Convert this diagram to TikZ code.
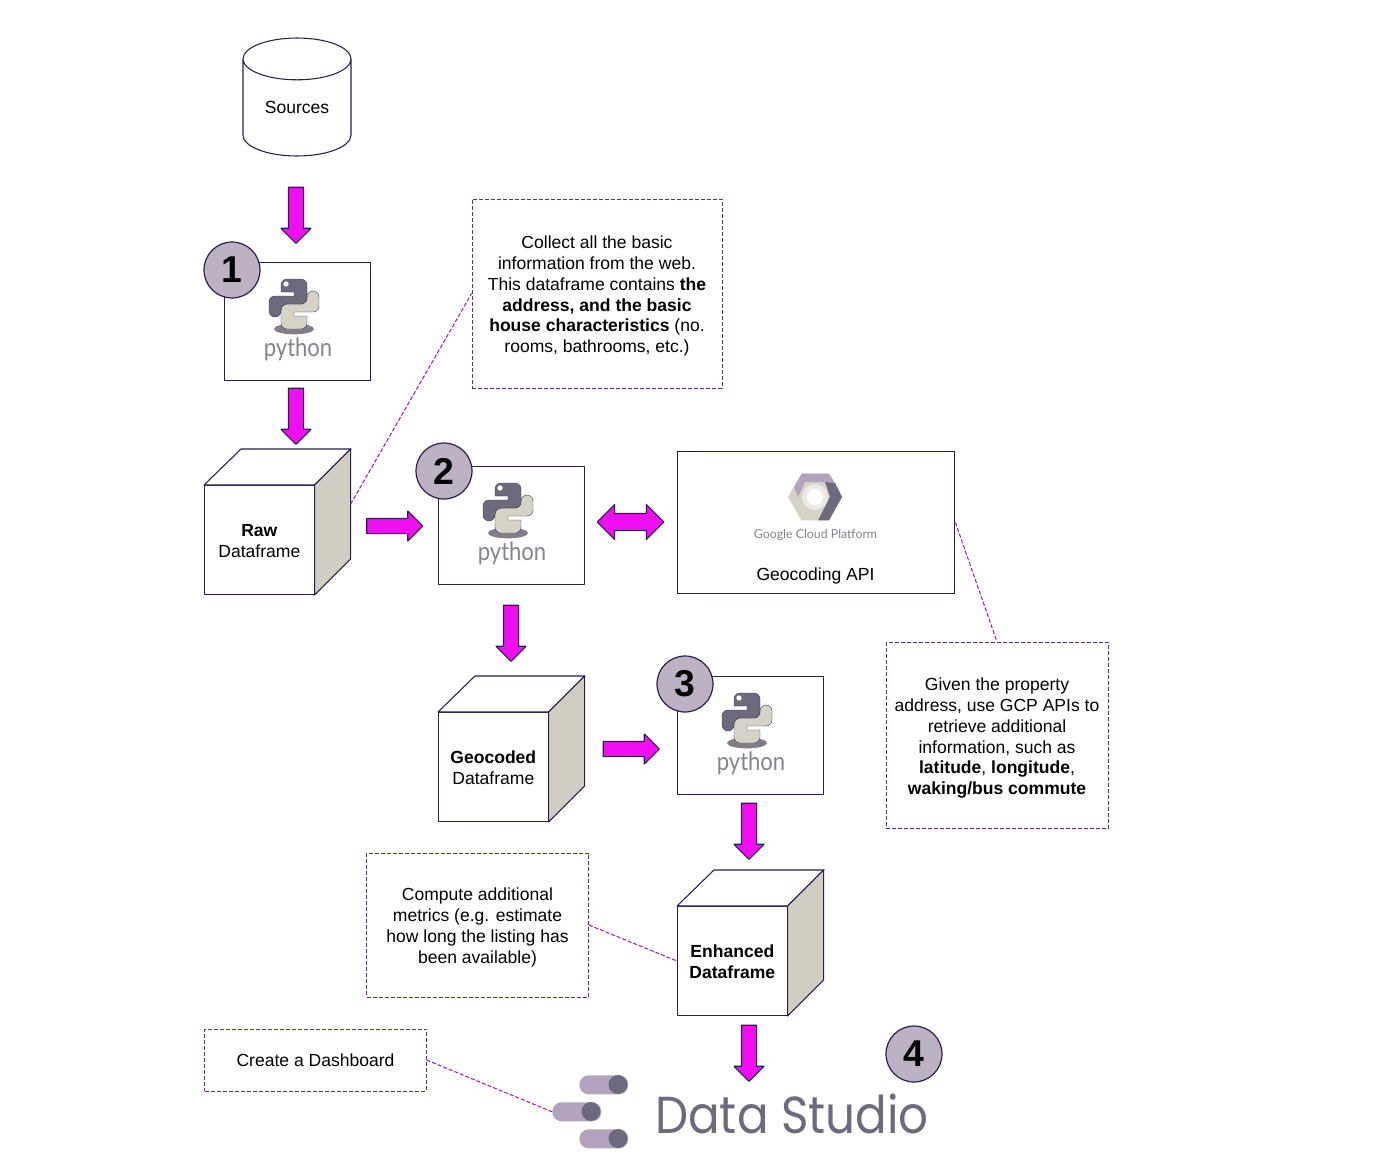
\documentclass[tikz,border=0pt]{standalone}
\usepackage{fontspec}
\setmainfont{Liberation Sans}
\newfontfamily\logofont{Lato}
\newfontfamily\studiofont{Poppins}
\usetikzlibrary{shapes.geometric,shapes.arrows}
\definecolor{edgeline}{HTML}{2A1E50}
\definecolor{arrowfill}{HTML}{F00FF0}
\definecolor{badgefill}{HTML}{BDB2C4}
\definecolor{sidefill}{HTML}{D2CDC3}
\definecolor{snakedark}{HTML}{6C6A7C}
\definecolor{snakelight}{HTML}{D6D2C6}
\definecolor{pillfill}{HTML}{B3A3BE}
\definecolor{logotext}{HTML}{85838F}
\definecolor{notedash}{HTML}{5E2D8C}
\definecolor{leaderdash}{HTML}{A010C0}
\newcommand{\topgap}{\rule{0pt}{13.5pt}}
\tikzset{
	rightarrow/.style={single arrow,draw=edgeline,fill=arrowfill,line width=0.8pt,inner sep=5.25pt,
		minimum height=42pt,minimum width=21.75pt,single arrow head extend=5.6pt},
	downarrow/.style={rightarrow,rotate=-90},
	bothways/.style={double arrow,draw=edgeline,fill=arrowfill,line width=0.8pt,inner sep=6pt,
		minimum height=50pt,minimum width=25.5pt,double arrow head extend=6.75pt},
	plainbox/.style={draw=edgeline,line width=0.8pt,fill=white,inner sep=0pt},
	notebox/.style={draw=notedash,dash pattern=on 3pt off 1.5pt,line width=0.6pt,align=center,inner sep=0pt},
	leader/.style={draw=leaderdash,dash pattern=on 3pt off 1.5pt,line width=0.75pt},
	badge/.style={circle,draw=edgeline,fill=badgefill,line width=0.9pt,inner sep=0pt,minimum size=42pt,
		font=\fontsize{28}{28}\selectfont\bfseries},
	pylogo/.pic={
		\fill[black!30!badgefill] (0,25) ellipse [x radius=15pt,y radius=4pt];
		\foreach \r/\c in {180/snakelight,0/snakedark}{
			\fill[\c,rotate=\r,rounded corners=4.5pt,draw=edgeline!70!snakedark,line width=0.3pt]
				(-13,-12) -- (-13,-25) -- (13,-25) -- (13,0) -- (-13,0) -- (-13,13) -- (-25,13) -- (-25,-8)
				[sharp corners] -- (0,-8) -- (0,-12) -- cycle;
		}
		\fill[white] (-8,-20) circle [radius=2pt];
		\node[logotext,font=\logofont\fontsize{19}{19}\selectfont] (-pyword) at (4,45.5) {\scalebox{0.87}[1]{python}};
	},
}
% cube: name, front-left x, front-top y, text
\newcommand{\cubebox}[4]{
	\node[plainbox,anchor=north west,minimum width=82.2pt,minimum height=81.7pt,align=center] (#1) at (#2,#3) {\rule{0pt}{10.2pt}#4};
	\draw[edgeline,line width=0.8pt,fill=white] (#1.north west) --++(37,-36) --++(110,0) -- (#1.north east) -- cycle;
	\draw[edgeline,line width=0.8pt,fill=sidefill] (#1.north east) --++(36,-36) --++(0,110) coordinate[pos=0.5] (#1-side) -- (#1.south east) -- cycle;
}
\begin{document}
\begin{tikzpicture}[x=0.75pt,y=-0.75pt,line join=round,font=\fontsize{13.15}{15.6}\selectfont,>=stealth]
	\useasboundingbox (0,0) rectangle (1400,1168);
	\node[cylinder,shape border rotate=90,aspect=0.65,draw=edgeline,line width=0.8pt,fill=white,minimum width=81pt,minimum height=88.5pt,inner sep=0pt,anchor=shape center] (sources) at (297,97) {Sources};
	%arrows
	\foreach \n/\x/\y in {a/296/211.5,b/296/412.5,c/511/629.5,d/749/827.5,e/749/1049.5}{
		\node[downarrow] (arrow\n) at (\x,\y) {};
	}
	\foreach \n/\x/\y in {f/391/526,g/627.5/749}{
		\node[rightarrow] (arrow\n) at (\x,\y) {};
	}
	\node[bothways] (arrowgcp) at (630.5,522) {};
	%python boxes
	\foreach \n/\x/\y in {pya/224/262,pyb/438/466,pyc/677/676}{
		\node[plainbox,anchor=north west,minimum width=109.2pt,minimum height=88.5pt] (\n) at (\x,\y) {};
		\path (\n.north west) ++(70,42) pic (\n logo) {pylogo};
	}
	\cubebox{raw}{204}{485}{\textbf{Raw}\\Dataframe}
	\cubebox{geocoded}{438}{712}{\textbf{Geocoded}\\Dataframe}
	\cubebox{enhanced}{677}{906}{\textbf{Enhanced}\\\textbf{Dataframe}}
	%gcp
	\node[plainbox,anchor=north west,minimum width=208pt,minimum height=106.5pt] (gcp) at (677,451) {};
	\fill[snakelight] (788,497) -- (801.5,473.6) -- (828.5,473.6) -- (842,497) -- (828.5,520.4) -- (801.5,520.4) -- cycle;
	\fill[pillfill] (794,487) -- (802,473.6) -- (829,473.6) -- (835,483) -- (825,482) -- (805,482) -- (798,497) -- cycle;
	\fill[snakedark] (835,483) -- (842,497) -- (829,520.4) -- (818,520.4) -- (830,497) -- (825,482) -- cycle;
	\fill[snakelight!50!white] (815,497) circle [radius=13pt*0.75];
	\fill[white] (815,497) circle [radius=8pt*0.75];
	\node[logotext,font=\logofont\fontsize{9.25}{10}\selectfont,inner sep=0pt] (gcpword) at (815.5,535.5) {Google Cloud Platform};
	\node[inner sep=0pt] (geocoding) at (815.5,576) {Geocoding API};
	%badges
	\foreach \n/\x/\y/\t in {ba/232/270/1,bb/444/471/2,bc/685/684/3,bd/914/1054/4}{
		\node[badge] (\n) at (\x,\y) {\raisebox{-1.7pt}{\t}};
	}
	%notes
	\node[notebox,minimum width=187.5pt,minimum height=141.75pt] (notea) at (597,293.5) {\topgap Collect all the basic\\information from the web.\\This dataframe contains \textbf{the}\\\textbf{address, and the basic}\\\textbf{house characteristics} (no.\\rooms, bathrooms, etc.)};
	\node[notebox,minimum width=166.5pt,minimum height=140pt] (noteb) at (997,735.5) {\topgap Given the property\\address, use GCP APIs to\\retrieve additional\\information, such as\\\textbf{latitude}, \textbf{longitude},\\\textbf{waking/bus commute}};
	\node[notebox,minimum width=166.5pt,minimum height=108pt] (notec) at (477.5,925) {\topgap Compute additional\\metrics (e.g. estimate\\how long the listing has\\been available)};
	\node[notebox,minimum width=166pt,minimum height=46.5pt] (noted) at (315.5,1060) {Create a Dashboard};
	%data studio
	\foreach \n/\x/\y in {pa/579/1075,pb/552/1102,pc/579/1129}{
		\node[pillfill,fill,rounded corners=7pt,anchor=north west,minimum width=36.75pt,minimum height=14.25pt,inner sep=0pt] (\n) at (\x,\y) {};
		\fill[snakedark] (\x+39,\y+9.5) circle [radius=7.1pt];
	}
	\node[text=snakedark,font=\studiofont\fontsize{39}{39}\selectfont,inner sep=0pt,anchor=base west] (studio) at (655,1133) {\scalebox{0.9}[1]{Data Studio}};
	%leaders
	\draw[leader] (raw-side) -- (notea.west);
	\draw[leader] (gcp.east) -- (noteb.north);
	\draw[leader] (notec.east) -- (enhanced.west);
	\draw[leader] (noted.east) -- (pb.west);
\end{tikzpicture}
\end{document}
